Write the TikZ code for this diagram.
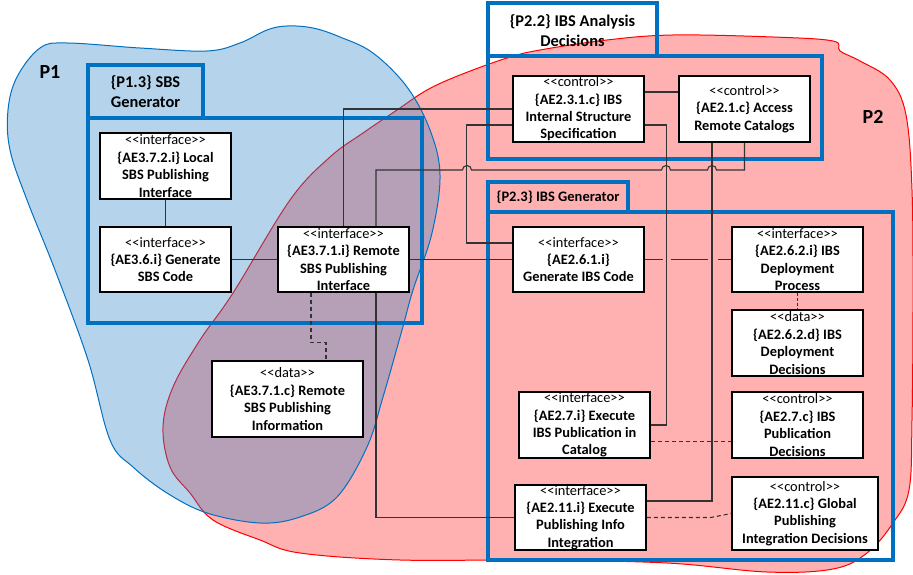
\documentclass[tikz,border=0pt]{standalone}
\usepackage{fontspec}
\newfontfamily\calfont{Carlito}
\usetikzlibrary{calc}
\definecolor{pkgblue}{HTML}{0070C0}
\definecolor{blobblue}{RGB}{44,132,201}
\definecolor{blobpink}{HTML}{FFB0B0}
\definecolor{conn}{gray}{0.2}
\begin{document}
\begin{tikzpicture}[x=1pt,y=-1pt,
  elem/.style={draw=black, line width=1.8pt, fill=white, inner sep=0pt, align=center,
    minimum width=131pt, minimum height=66pt, font=\calfont\fontsize{14.4}{17.4}\selectfont},
  pkg/.style={draw=pkgblue, line width=3.2pt},
  pkgtitle/.style={font=\calfont\bfseries\fontsize{16.4}{20}\selectfont, align=center, inner sep=0pt},
  pkgtitlesmall/.style={font=\calfont\bfseries\fontsize{14.5}{17.5}\selectfont, align=center, inner sep=0pt},
  regionlabel/.style={font=\calfont\bfseries\fontsize{20}{24}\selectfont, inner sep=0pt},
  wire/.style={draw=conn, line width=1.1pt},
  dwire/.style={wire, dash pattern=on 4pt off 3pt},
  ]
\useasboundingbox (0,0) rectangle (913,575);
\fill[white] (0,0) rectangle (913,575);

% P2 region (red)
\filldraw[fill=blobpink, draw=red, line width=1pt] plot[smooth cycle, tension=0.6] coordinates {
 (163,427) (173,387) (200,340) (233,293) (290,200) (330,157) (363,133) (397,110) (427,90)
 (460,75) (507,58) (540,50) (607,40) (673,35) (773,37) (833,41) (840,51) (860,61) (890,80)
 (906,115) (912,190) (913,300) (912,420) (909,490) (893,523) (867,553) (833,569) (767,572)
 (667,563) (533,560) (400,560) (300,553) (260,540) (213,520) (190,493) (170,467)};

% P1 region (blue, translucent)
\path[fill=blobblue, fill opacity=0.35, draw=pkgblue, line width=1pt] plot[smooth cycle, tension=0.6] coordinates {
 (8,110) (17,77) (40,48) (67,43) (140,48) (207,51) (240,43) (267,30) (287,26) (313,28)
 (340,37) (373,53) (407,87) (430,130) (440,175) (432,233) (413,290) (402,330) (383,397)
 (367,447) (337,497) (300,517) (260,523) (207,513) (167,493) (133,467) (110,440) (88,360)
 (55,270) (27,200) (10,150)};

\node[regionlabel] (lP1) at (50,72) {P1};
\node[regionlabel] (lP2) at (873,117) {P2};

% packages
\draw[pkg] (88,65) rectangle (203,118);
\draw[pkg] (88,118) rectangle (422,323);
\node[pkgtitle] (t13) at (145.5,92) {\{P1.3\} SBS\\Generator};
\draw[pkg] (488,3) rectangle (657,56);
\draw[pkg] (488,56) rectangle (822,159);
\node[pkgtitle] (t22) at (572.5,30.5) {\{P2.2\} IBS Analysis\\Decisions};
\draw[pkg] (488,182) rectangle (628,212);
\draw[pkg] (488,212) rectangle (893,560);
\node[pkgtitlesmall] (t23) at (558,197.5) {\{P2.3\} IBS Generator};

% elements
\node[elem] (n3721) at (165.5,166) {<<interface>>\\\textbf{\{AE3.7.2.i\} Local}\\\textbf{SBS Publishing}\\\textbf{Interface}};
\node[elem, minimum height=65pt] (n36) at (165.5,259.5) {<<interface>>\\\textbf{\{AE3.6.i\} Generate}\\\textbf{SBS Code}};
\node[elem, minimum height=65pt] (n371i) at (343.5,259.5) {<<interface>>\\\textbf{\{AE3.7.1.i\} Remote}\\\textbf{SBS Publishing}\\\textbf{Interface}};
\node[elem, minimum width=151pt, minimum height=76pt] (n371c) at (287.5,399) {<<data>>\\\textbf{\{AE3.7.1.c\} Remote}\\\textbf{SBS Publishing}\\\textbf{Information}};
\node[elem] (n231c) at (578.5,109) {<<control>>\\\textbf{\{AE2.3.1.c\} IBS}\\\textbf{Internal Structure}\\\textbf{Specification}};
\node[elem] (n21c) at (744.5,109) {<<control>>\\\textbf{\{AE2.1.c\} Access}\\\textbf{Remote Catalogs}};
\node[elem, minimum height=65pt] (n261i) at (578.5,259.5) {<<interface>>\\\textbf{\{AE2.6.1.i\}}\\\textbf{Generate IBS Code}};
\node[elem, minimum height=65pt] (n262i) at (797.5,259.5) {<<interface>>\\\textbf{\{AE2.6.2.i\} IBS}\\\textbf{Deployment}\\\textbf{Process}};
\node[elem] (n262d) at (797.5,343) {<<data>>\\\textbf{\{AE2.6.2.d\} IBS}\\\textbf{Deployment}\\\textbf{Decisions}};
\node[elem] (n27i) at (584.5,425) {<<interface>>\\\textbf{\{AE2.7.i\} Execute}\\\textbf{IBS Publication in}\\\textbf{Catalog}};
\node[elem] (n27c) at (797.5,425) {<<control>>\\\textbf{\{AE2.7.c\} IBS}\\\textbf{Publication}\\\textbf{Decisions}};
\node[elem, minimum height=65pt] (n211i) at (580.5,517.5) {<<interface>>\\\textbf{\{AE2.11.i\} Execute}\\\textbf{Publishing Info}\\\textbf{Integration}};
\node[elem, minimum width=146pt, minimum height=73pt] (n211c) at (805,513.5) {<<control>>\\\textbf{\{AE2.11.c\} Global}\\\textbf{Publishing}\\\textbf{Integration Decisions}};

% connectors
\draw[wire] (n3721.south) -- (n36.north);
\draw[wire] (n36.east) -- (n371i.west);
\draw[wire] (n371i.east) -- (n261i.west);
\draw[wire] (n371i.north) |- (n231c.west);
\draw[wire] ([xshift=32.5pt]n371i.north) |- (462.5,170)
  arc[start angle=180, end angle=0, radius=4.5pt] -- (661.5,170)
  arc[start angle=180, end angle=0, radius=4.5pt] -- (707.5,170)
  arc[start angle=180, end angle=0, radius=4.5pt] -| (n21c.south);
\draw[wire] ([yshift=-16pt]n231c.west) -- ++(-46,0) |- ([yshift=16.5pt]n261i.west);
\draw[wire] ([yshift=-16pt]n231c.east) -- ++(22,0) |- (n27i.east);
\draw[wire] ([yshift=17pt]n231c.east) -- ([yshift=17pt]n21c.west);
\draw[wire] ([xshift=-32.5pt]n21c.south) |- ([yshift=16.5pt]n211i.east);
\draw[wire] ([xshift=32.5pt]n371i.south) |- (n211i.west);
\draw[wire, dash pattern=on 18pt off 8pt on 37pt off 10pt on 30pt] (n261i.east) -- (n262i.west);
\draw[dwire] ([xshift=-32.5pt]n371i.south) -- ++(0,50) -| ([xshift=38.5pt]n371c.north);
\draw[wire, dash pattern=on 3pt off 2pt] (n262i.south) -- (n262d.north);
\draw[dwire] ([yshift=-16.5pt]n27i.east) -- ([yshift=-16.5pt]n27c.west);
\draw[dwire] (n211i.east) -- ++(64,0) -- (n211c.west);
\end{tikzpicture}
\end{document}
